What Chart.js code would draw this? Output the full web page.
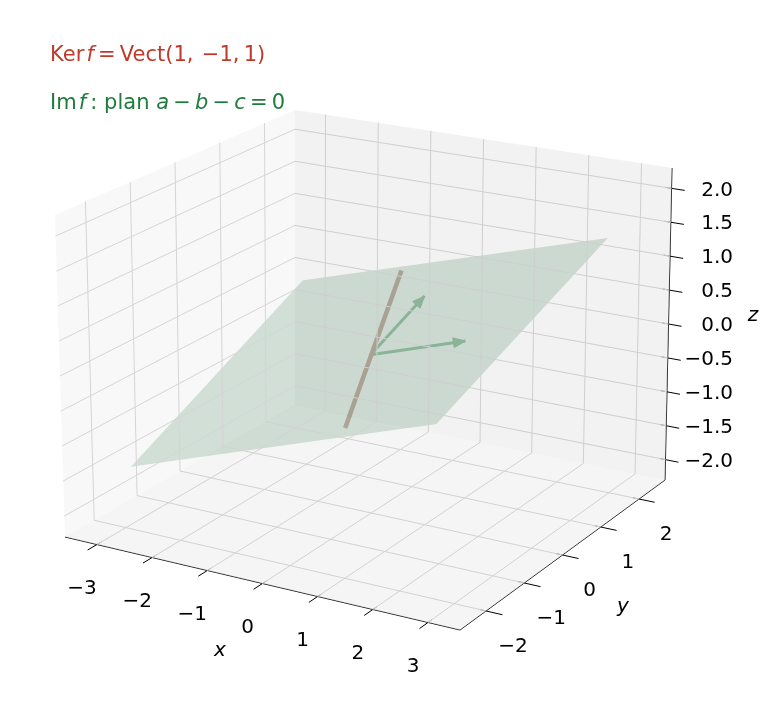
<!DOCTYPE html>
<html><head><meta charset="utf-8">
<script src="https://cdn.jsdelivr.net/npm/chart.js@4"></script>
<style>
body{margin:0;background:#fff;}
#wrap{position:relative;width:775px;height:723px;}
.t{position:absolute;font-family:"DejaVu Sans";font-size:21px;white-space:nowrap;}
</style></head><body>
<div id="wrap"><canvas id="c" width="775" height="723"></canvas>
<div class="t" style="left:50px;top:42px;color:#c0392b">Ker&#8202;<i>f</i>&#8201;=&#8201;Vect(1,&#8201;&#8201;−1,&#8201;1)</div>
<div class="t" style="left:50px;top:90px;color:#1e7d3c">Im&#8202;<i>f</i>&#8201;: plan <i>a</i>&#8201;−&#8201;<i>b</i>&#8201;−&#8201;<i>c</i>&#8201;=&#8201;0</div>
</div>
<script>
const xTicks=[-3,-2,-1,0,1,2,3];
const yTicks=[-2,-1,0,1,2];
const zTicks=[-2,-1.5,-1,-0.5,0,0.5,1,1.5,2];
const xLim=[-3.58,3.58], yLim=[-2.68,2.68], zLim=[-2.3,2.3];
const imBasis=[[1,1,0],[1,0,1]];
const kerVec=[1,-1,1];
const kerRange=[-2.3,2.3];
const planeRange=[-1.6,1.6];

const botC={A:[65,537],B:[460,630],C:[665,480],D:[295,405]};
const topC={A:[55,215],B:[458,293],C:[672,168],D:[295,110]};
function bil(c,u,v){return [0,1].map(i=>c.A[i]*(1-u)*(1-v)+c.B[i]*u*(1-v)+c.C[i]*u*v+c.D[i]*(1-u)*v);}
function proj(p){
  const u=(p[0]-xLim[0])/(xLim[1]-xLim[0]), v=(p[1]-yLim[0])/(yLim[1]-yLim[0]), w=(p[2]-zLim[0])/(zLim[1]-zLim[0]);
  const b=bil(botC,u,v), t=bil(topC,u,v);
  return {x:b[0]*(1-w)+t[0]*w, y:b[1]*(1-w)+t[1]*w};
}
const ds=[];
function line(pts,color,width,extra){ds.push(Object.assign({data:pts.map(proj),showLine:true,pointRadius:0,borderColor:color,borderWidth:width,fill:false,tension:0},extra||{}));}
function poly(pts,fillc,stroke){ds.push({data:pts.concat([pts[0]]).map(proj),showLine:true,pointRadius:0,borderColor:stroke||'rgba(0,0,0,0)',borderWidth:stroke?1:0,backgroundColor:fillc,fill:'shape'});}
const [x0,x1]=xLim,[y0,y1]=yLim,[z0,z1]=zLim;
poly([[x0,y0,z0],[x0,y1,z0],[x0,y1,z1],[x0,y0,z1]],'rgba(242,242,242,0.5)');
poly([[x0,y1,z0],[x1,y1,z0],[x1,y1,z1],[x0,y1,z1]],'rgba(230,230,230,0.5)');
poly([[x0,y0,z0],[x1,y0,z0],[x1,y1,z0],[x0,y1,z0]],'rgba(236,236,236,0.5)');
const g='#b8b8b8',gw=1;
yTicks.forEach(y=>{line([[x0,y,z0],[x0,y,z1]],g,gw);line([[x0,y,z0],[x1,y,z0]],g,gw);});
zTicks.forEach(z=>{line([[x0,y0,z],[x0,y1,z],[x1,y1,z]],g,gw);});
xTicks.forEach(x=>{line([[x,y0,z0],[x,y1,z0],[x,y1,z1]],g,gw);});
line([[x0,y0,z0],[x1,y0,z0]],'#000',1);
line([[x1,y0,z0],[x1,y1,z0]],'#000',1);
line([[x1,y1,z0],[x1,y1,z1]],'#000',1);
xTicks.forEach(x=>line([[x,y0+0.1,z0],[x,y0-0.22,z0]],'#000',1));
yTicks.forEach(y=>line([[x1-0.12,y,z0],[x1+0.3,y,z0]],'#000',1));
zTicks.forEach(z=>line([[x1-0.12,y1,z],[x1+0.25,y1,z]],'#000',1));
const [pa,pb]=planeRange, e1=imBasis[0], e2=imBasis[1];
const pp=(s,t)=>[0,1,2].map(i=>s*e1[i]+t*e2[i]);
poly([pp(pa,pa),pp(pb,pa),pp(pb,pb),pp(pa,pb)],'rgba(70,135,95,0.42)');
line([kerVec.map(c=>c*kerRange[0]),kerVec.map(c=>c*kerRange[1])],'#8a3d24',4.5);
imBasis.forEach(v=>{
  line([[0,0,0],v],'#1e7d3c',3);
  const T=proj(v),S=proj(v.map(c=>c*0.8));
  let dx=T.x-S.x,dy=T.y-S.y,L=Math.hypot(dx,dy);dx/=L;dy/=L;
  const hl=12,hw=5;
  ds.push({data:[{x:T.x,y:T.y},{x:T.x-hl*dx-hw*dy,y:T.y-hl*dy+hw*dx},{x:T.x-hl*dx+hw*dy,y:T.y-hl*dy-hw*dx},{x:T.x,y:T.y}],showLine:true,pointRadius:0,borderColor:'#1e7d3c',borderWidth:1,backgroundColor:'#1e7d3c',fill:'shape'});
});
const fmt=v=>(v<0?'−':'')+Math.abs(v);
const labels={id:'labels',afterDatasetsDraw(ch){
  const c=ch.ctx,sx=ch.scales.x,sy=ch.scales.y;
  const px=p=>{const q=proj(p);return [sx.getPixelForValue(q.x),sy.getPixelForValue(q.y)];};
  c.save();c.fillStyle='#000';c.font='20px "DejaVu Sans"';c.textBaseline='middle';c.textAlign='center';
  xTicks.forEach(x=>{const [a,b]=px([x,y0,z0]);c.fillText(fmt(x),a-15,b+44);});
  yTicks.forEach(y=>{const [a,b]=px([x1,y,z0]);c.fillText(fmt(y),a+27,b+36);});
  c.textAlign='right';
  zTicks.forEach(z=>{const [a,b]=px([x1,y1,z]);c.fillText((z<0?'−':'')+Math.abs(z).toFixed(1),733,b+2);});
  c.font='italic 20px "DejaVu Sans"';c.textAlign='center';
  c.fillText('x',220,651);c.fillText('y',623,607);c.fillText('z',753,316);
  c.restore();
}};
new Chart(document.getElementById('c'),{type:'scatter',data:{datasets:ds},
 options:{responsive:false,animation:false,layout:{padding:0},
  plugins:{legend:{display:false},tooltip:{enabled:false}},
  scales:{x:{type:'linear',min:0,max:775,display:false},y:{type:'linear',min:0,max:723,reverse:true,display:false}}},
 plugins:[labels]});
</script></body></html>
